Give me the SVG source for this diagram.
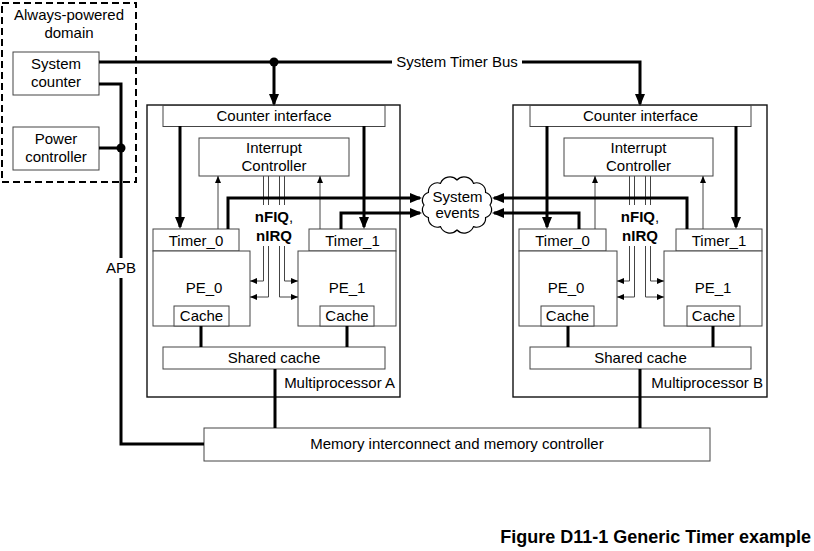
<svg xmlns="http://www.w3.org/2000/svg" width="814" height="551" viewBox="0 0 814 551">
<style>
text{font-family:"Liberation Sans",Arial,sans-serif;font-size:15px;fill:#000;text-anchor:middle}
.b{fill:#fff;stroke:#444;stroke-width:1}
.o{fill:#fff;stroke:#111;stroke-width:1.4}
.k{fill:none;stroke:#000;stroke-width:3}
.t{fill:none;stroke:#444;stroke-width:1}
.bold{font-weight:bold}
</style>
<defs>
<marker id="ah" viewBox="0 0 12 10" refX="10" refY="5" markerWidth="12" markerHeight="10" markerUnits="userSpaceOnUse" orient="auto"><path d="M0,0 L12,5 L0,10 z" fill="#000"/></marker>
<marker id="at" viewBox="0 0 7 6" refX="7" refY="3" markerWidth="7" markerHeight="6" markerUnits="userSpaceOnUse" orient="auto"><path d="M0,0 L7,3 L0,6 z" fill="#000"/></marker>
</defs>

<g id="always-powered">
<rect x="2" y="3" width="134" height="179" fill="none" stroke="#000" stroke-width="2" stroke-dasharray="7,4"/>
<text x="69" y="20">Always-powered</text>
<text x="69" y="38">domain</text>
</g>
<g id="system-counter">
<rect class="b" x="13" y="52" width="86" height="43"/>
<text x="56" y="69">System</text>
<text x="56" y="87">counter</text>
</g>
<g id="power-controller">
<rect class="b" x="13" y="127" width="86" height="43"/>
<text x="56" y="144">Power</text>
<text x="56" y="162">controller</text>
</g>

<g id="mpA">
<rect class="o" x="147" y="105" width="253" height="292"/>
<text x="395" y="388" style="text-anchor:end">Multiprocessor A</text>
</g>
<g id="mpB">
<rect class="o" x="513" y="105" width="254" height="292"/>
<text x="763" y="388" style="text-anchor:end">Multiprocessor B</text>
</g>

<g id="counterA"><rect class="b" x="163" y="105.5" width="222" height="21"/><text x="274" y="121">Counter interface</text></g>
<g id="icA"><rect class="b" x="199" y="138" width="150" height="38"/><text x="274" y="153">Interrupt</text><text x="274" y="171">Controller</text></g>
<g id="timer0A"><rect class="b" x="153" y="229" width="86" height="22"/><text x="196" y="246">Timer_0</text></g>
<g id="pe0A"><rect class="b" x="153" y="251" width="97" height="75"/><text x="204" y="293">PE_0</text></g>
<g id="cache0A"><rect class="b" x="174" y="306" width="55" height="20"/><text x="201.5" y="321">Cache</text></g>
<g id="timer1A"><rect class="b" x="309" y="229" width="87" height="22"/><text x="352.5" y="246">Timer_1</text></g>
<g id="pe1A"><rect class="b" x="298" y="251" width="98" height="75"/><text x="347" y="293">PE_1</text></g>
<g id="cache1A"><rect class="b" x="320" y="306" width="54" height="20"/><text x="347" y="321">Cache</text></g>
<g id="sharedA"><rect class="b" x="163" y="347" width="222" height="22"/><text x="274" y="363">Shared cache</text></g>

<g id="counterB"><rect class="b" x="530" y="105.5" width="221" height="21"/><text x="640.5" y="121">Counter interface</text></g>
<g id="icB"><rect class="b" x="564" y="138" width="149" height="38"/><text x="638.5" y="153">Interrupt</text><text x="638.5" y="171">Controller</text></g>
<g id="timer0B"><rect class="b" x="519" y="229" width="87" height="22"/><text x="562.5" y="246">Timer_0</text></g>
<g id="pe0B"><rect class="b" x="519" y="251" width="98" height="75"/><text x="566" y="293">PE_0</text></g>
<g id="cache0B"><rect class="b" x="541" y="306" width="53" height="20"/><text x="567.5" y="321">Cache</text></g>
<g id="timer1B"><rect class="b" x="676" y="229" width="86" height="22"/><text x="719" y="246">Timer_1</text></g>
<g id="pe1B"><rect class="b" x="664" y="251" width="98" height="75"/><text x="713" y="293">PE_1</text></g>
<g id="cache1B"><rect class="b" x="687" y="306" width="53" height="20"/><text x="713.5" y="321">Cache</text></g>
<g id="sharedB"><rect class="b" x="530" y="347" width="221" height="22"/><text x="640.5" y="363">Shared cache</text></g>

<g id="memory"><rect class="b" x="204" y="428" width="506" height="33"/><text x="457" y="449">Memory interconnect and memory controller</text></g>

<g id="system-events">
<path d="M490,205 A8,8 0 0 1 485.58,217.5 A9,9 0 0 1 473.5,226.65 A10,10 0 0 1 457,230 A10,10 0 0 1 440.5,226.65 A9,9 0 0 1 428.42,217.5 A8,8 0 0 1 424,205 A8,8 0 0 1 428.42,192.5 A9,9 0 0 1 440.5,183.35 A10,10 0 0 1 457,180 A10,10 0 0 1 473.5,183.35 A9,9 0 0 1 485.58,192.5 A8,8 0 0 1 490,205 z" fill="#fff" stroke="#000" stroke-width="1.2"/>
<text x="457.5" y="202">System</text>
<text x="457.5" y="218">events</text>
</g>

<g id="connectors">
<path class="k" d="M99,62 H392 M522,62 H640 V104" marker-end="url(#ah)"/>
<path class="k" d="M274,62 V104" marker-end="url(#ah)"/>
<circle cx="274" cy="62" r="4.5" fill="#000"/>
<text x="457" y="67">System Timer Bus</text>
<path class="k" d="M99,84 H121 V444 H204"/>
<path class="k" d="M99,148 H121"/>
<circle cx="121" cy="148" r="4.5" fill="#000"/>
<rect x="104" y="258" width="34" height="20" fill="#fff"/>
<text x="121" y="273">APB</text>

<path class="k" d="M180,126 V227" marker-end="url(#ah)"/>
<path class="k" d="M364,126 V227" marker-end="url(#ah)"/>
<path class="t" d="M218,229 V176" marker-end="url(#at)"/>
<path class="t" d="M320,229 V176" marker-end="url(#at)"/>
<path class="t" d="M263.5,176 V281 H250" marker-end="url(#at)"/>
<path class="t" d="M268.5,176 V297 H250" marker-end="url(#at)"/>
<path class="t" d="M284.5,176 V281 H298" marker-end="url(#at)"/>
<path class="t" d="M279.5,176 V297 H298" marker-end="url(#at)"/>
<rect x="253" y="205" width="42" height="41" fill="#fff"/>
<text class="bold" x="274" y="222">nFIQ<tspan font-weight="normal">,</tspan></text>
<text class="bold" x="274" y="241">nIRQ</text>
<path class="k" d="M228,229 V198 H420" marker-end="url(#ah)"/>
<path class="k" d="M341,229 V213 H420" marker-end="url(#ah)"/>
<path class="k" d="M201,326 V347 M347,326 V347 M275,369 V428"/>

<path class="k" d="M547,126 V227" marker-end="url(#ah)"/>
<path class="k" d="M736,126 V227" marker-end="url(#ah)"/>
<path class="t" d="M595,229 V176" marker-end="url(#at)"/>
<path class="t" d="M703,229 V176" marker-end="url(#at)"/>
<path class="t" d="M629.5,176 V281 H617" marker-end="url(#at)"/>
<path class="t" d="M634.5,176 V297 H617" marker-end="url(#at)"/>
<path class="t" d="M650.5,176 V281 H664" marker-end="url(#at)"/>
<path class="t" d="M645.5,176 V297 H664" marker-end="url(#at)"/>
<rect x="619" y="205" width="42" height="41" fill="#fff"/>
<text class="bold" x="640" y="222">nFIQ<tspan font-weight="normal">,</tspan></text>
<text class="bold" x="640" y="241">nIRQ</text>
<path class="k" d="M687,229 V198 H494" marker-end="url(#ah)"/>
<path class="k" d="M579,229 V213 H494" marker-end="url(#ah)"/>
<path class="k" d="M568,326 V347 M713,326 V347 M640,369 V428"/>
</g>

<text class="bold" x="811" y="543" style="text-anchor:end;font-size:18px">Figure D11-1 Generic Timer example</text>
</svg>
